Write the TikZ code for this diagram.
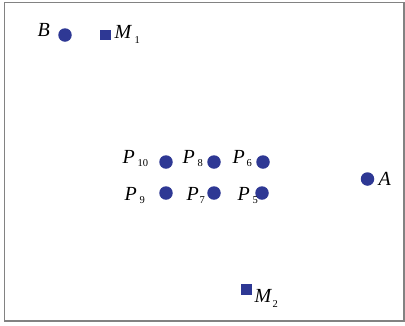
\documentclass[tikz,border=0pt]{standalone}
\usepackage{fontspec}
\setmainfont{Liberation Serif}
\definecolor{ptblue}{RGB}{46,56,148}
\definecolor{framegray}{RGB}{130,130,130}
\tikzset{
  dot/.style={circle,fill=ptblue,draw=none,minimum size=13.5pt,inner sep=0pt},
  sq/.style={rectangle,fill=ptblue,draw=none,minimum size=10.5pt,inner sep=0pt},
  big/.style={anchor=base west,inner sep=0pt,font=\fontsize{20}{20}\selectfont\itshape},
  small/.style={anchor=base west,inner sep=0pt,font=\fontsize{10.5}{10.5}\selectfont},
}
\begin{document}
\begin{tikzpicture}[x=1pt,y=-1pt]
\useasboundingbox (0,0) rectangle (405,325);
\draw[framegray,line width=1.4pt] (4.5,2.5) rectangle (403.8,321);
% points
\node[dot] (B) at (65,35) {};
\node[sq] (M1) at (105.5,35) {};
\node[dot] (P10) at (166,162) {};
\node[dot] (P8) at (214,162) {};
\node[dot] (P6) at (263,162) {};
\node[dot] (P9) at (166,193) {};
\node[dot] (P7) at (214,193) {};
\node[dot] (P5) at (262,193) {};
\node[dot] (A) at (367.5,179) {};
\node[sq] (M2) at (246.5,289.5) {};
% labels
\node[big] (lB) at (37.5,36) {B};
\node[big] (lM1) at (114.5,38) {M};
\node[small] (sM1) at (134.5,43) {1};
\node[big] (lP10) at (122.5,163) {P};
\node[small] (sP10) at (137.5,166) {10};
\node[big] (lP8) at (182.5,163) {P};
\node[small] (sP8) at (197.5,166) {8};
\node[big] (lP6) at (232.5,163) {P};
\node[small] (sP6) at (246.5,166) {6};
\node[big] (lP9) at (124.5,200) {P};
\node[small] (sP9) at (139.5,203) {9};
\node[big] (lP7) at (186.5,200) {P};
\node[small] (sP7) at (199.5,203) {7};
\node[big] (lP5) at (237.5,200) {P};
\node[small] (sP5) at (252.5,203) {5};
\node[big] (lA) at (378.5,185) {A};
\node[big] (lM2) at (254.5,302) {M};
\node[small] (sM2) at (272.5,307) {2};
\end{tikzpicture}
\end{document}
